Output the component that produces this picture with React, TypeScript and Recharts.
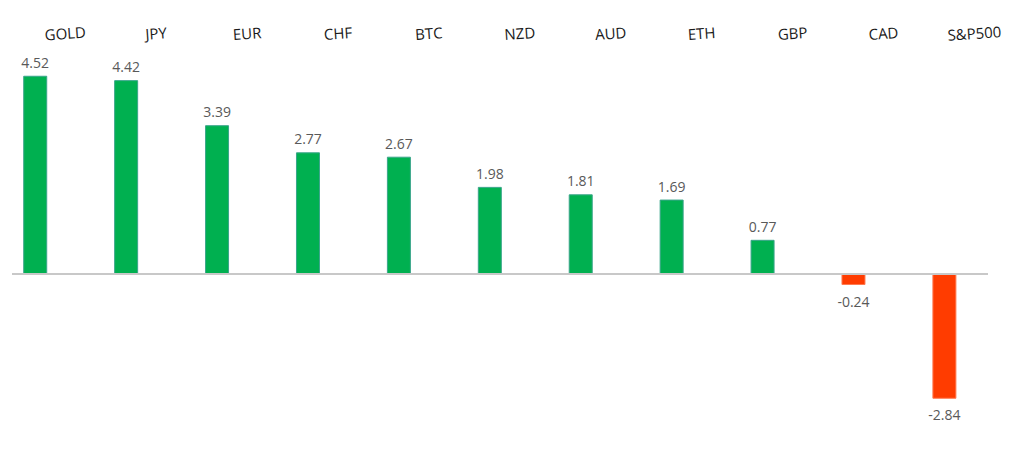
import React from "react";
import { BarChart, Bar, XAxis, YAxis, ReferenceLine, Cell, LabelList } from "recharts";

const categories = ["GOLD", "JPY", "EUR", "CHF", "BTC", "NZD", "AUD", "ETH", "GBP", "CAD", "S&P500"];
const values = [4.52, 4.42, 3.39, 2.77, 2.67, 1.98, 1.81, 1.69, 0.77, -0.24, -2.84];

const data = categories.map((name, i) => ({ idx: i, name, value: values[i] }));
const tickIdx = categories.map((_, i) => i);

const FONT = "'Open Sans', 'Noto Sans', sans-serif";
const POS = "#00B050";
const NEG = "#FF3C00";

const CatTick = (props: any) => {
  const { x, payload } = props;
  const name = categories[payload.value] ?? "";
  const tx = x + 30;
  const ty = 33;
  return (
    <text
      x={tx}
      y={ty}
      textAnchor="middle"
      dominantBaseline="central"
      fontFamily={FONT}
      fontSize={15}
      fill="#1a1a1a"
      transform={`rotate(-4 ${tx} ${ty})`}
    >
      {name}
    </text>
  );
};

const ValueLabel = (props: any) => {
  const { x, y, width, height, value } = props;
  const top = Math.min(y, y + height);
  const bottom = Math.max(y, y + height);
  const cx = x + width / 2;
  const ly = value >= 0 ? top - 14 : bottom + 16.5;
  return (
    <text x={cx} y={ly} textAnchor="middle" dominantBaseline="central" fontFamily={FONT} fontSize={14} fill="#595959">
      {value.toFixed(2)}
    </text>
  );
};

export default function App() {
  return (
    <div style={{ position: "absolute", left: 0, top: 0, width: 1024, height: 459, background: "#fff" }}>
      <BarChart
        width={1024}
        height={459}
        data={data}
        margin={{ top: 0, right: 36, bottom: 53.75, left: 12 }}
      >
        <XAxis
          dataKey="idx"
          type="number"
          orientation="top"
          domain={[-0.255, 10.48]}
          allowDataOverflow
          ticks={tickIdx}
          interval={0}
          height={55.25}
          axisLine={false}
          tickLine={false}
          tick={<CatTick />}
        />
        <YAxis hide domain={[-3, 5]} allowDataOverflow />
        <ReferenceLine y={0} stroke="#c8c8c8" strokeWidth={2} />
        <Bar dataKey="value" barSize={23} isAnimationActive={false}>
          {data.map((d, i) => (
            <Cell
              key={i}
              fill={d.value >= 0 ? POS : NEG}
              stroke={d.value >= 0 ? "#3aa58a" : "#ff7a50"}
              strokeWidth={1}
            />
          ))}
          <LabelList dataKey="value" content={<ValueLabel />} />
        </Bar>
      </BarChart>
    </div>
  );
}
